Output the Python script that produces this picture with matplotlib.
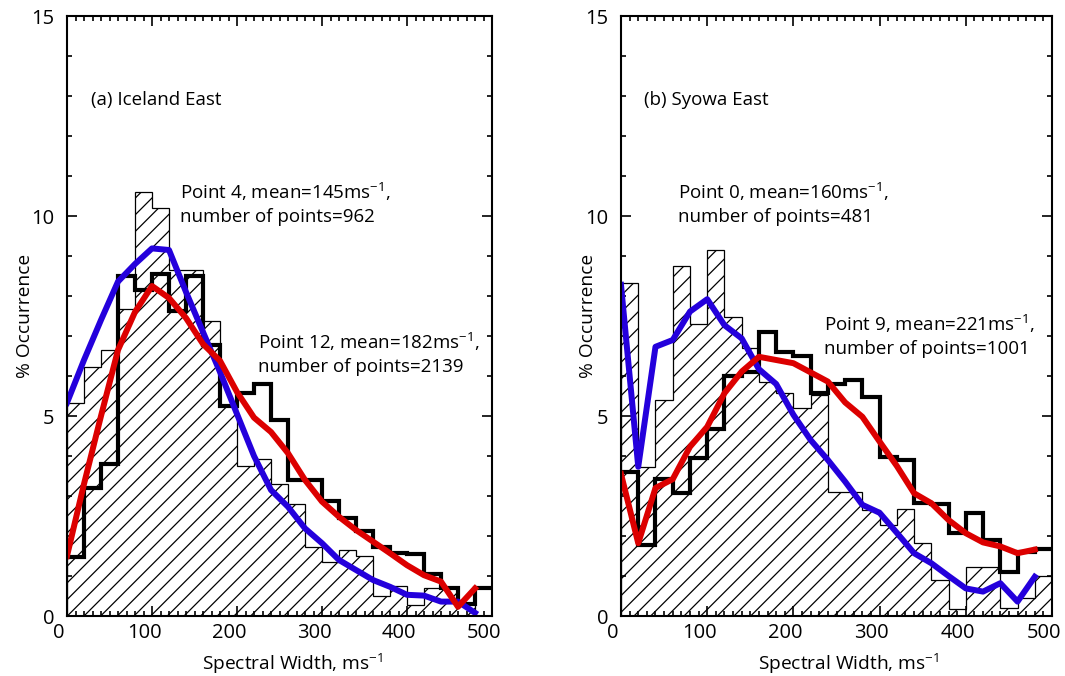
import numpy as np
import matplotlib
matplotlib.use('Agg')
import matplotlib.pyplot as plt
from matplotlib.ticker import MultipleLocator
from matplotlib.transforms import ScaledTranslation

plt.rcParams['font.family'] = ['Open Sans', 'DejaVu Sans']
plt.rcParams['mathtext.fontset'] = 'custom'
plt.rcParams['mathtext.rm'] = 'Open Sans'
plt.rcParams['mathtext.it'] = 'Open Sans'
plt.rcParams['mathtext.default'] = 'rm'
plt.rcParams['hatch.linewidth'] = 0.9

# bin edges (ms-1) and line sample positions
edges = np.arange(0, 520, 20)
x_pts = np.arange(0, 500, 20)

# (a) Iceland East
ice_hatch = [5.32, 6.23, 6.65, 7.67, 10.6, 10.2, 8.65, 8.65, 7.37, 5.25, 3.74, 3.93, 3.3,
             2.8, 1.73, 1.36, 1.64, 1.5, 0.5, 0.76, 0.28, 0.69, 0.69, 0.3, 0.0]
ice_thick = [1.47, 3.19, 3.8, 8.5, 8.15, 8.55, 7.62, 8.5, 6.78, 5.26, 5.58, 5.81, 4.89,
             3.4, 3.4, 2.87, 2.46, 2.12, 1.72, 1.58, 1.55, 1.05, 0.7, 0.3, 0.69]
ice_blue = [5.33, 6.4, 7.4, 8.36, 8.8, 9.19, 9.15, 8.1, 7.1, 6.1, 5.05, 4.0, 3.15,
            2.73, 2.19, 1.82, 1.4, 1.15, 0.9, 0.73, 0.53, 0.51, 0.36, 0.36, 0.08]
ice_red = [1.5, 3.3, 5.0, 6.65, 7.6, 8.25, 7.95, 7.45, 6.8, 6.38, 5.6, 4.96, 4.6,
           4.07, 3.4, 2.86, 2.48, 2.15, 1.86, 1.57, 1.27, 1.02, 0.86, 0.23, 0.69]

# (b) Syowa East
syo_hatch = [8.33, 3.73, 5.4, 8.75, 7.3, 9.15, 7.48, 6.69, 5.86, 5.58, 5.19, 5.52, 3.11,
             3.11, 2.65, 2.27, 2.67, 1.82, 0.9, 0.17, 1.23, 1.23, 0.2, 0.45, 1.0]
syo_thick = [3.61, 1.77, 3.42, 3.07, 3.96, 4.67, 6.0, 6.11, 7.1, 6.61, 6.51, 5.57, 5.8,
             5.9, 5.48, 3.98, 3.9, 2.82, 2.8, 2.07, 2.58, 1.89, 1.1, 1.6, 1.67]
syo_blue = [8.28, 3.73, 6.73, 6.9, 7.61, 7.92, 7.27, 6.94, 6.17, 5.8, 5.03, 4.4, 3.9,
            3.36, 2.78, 2.58, 2.08, 1.57, 1.32, 1.0, 0.69, 0.61, 0.82, 0.36, 0.98]
syo_red = [3.55, 1.82, 3.2, 3.42, 4.23, 4.73, 5.57, 6.11, 6.48, 6.4, 6.32, 6.09, 5.86,
           5.34, 4.98, 4.36, 3.75, 3.07, 2.82, 2.4, 2.07, 1.84, 1.74, 1.57, 1.66]

panels = [
    ('(a) Iceland East', ice_hatch, ice_thick, ice_blue, ice_red,
     ['Point 4, mean=145ms$^{-1}$,', 'number of points=962'], (133, 10.6),
     ['Point 12, mean=182ms$^{-1}$,', 'number of points=2139'], (225, 6.85)),
    ('(b) Syowa East', syo_hatch, syo_thick, syo_blue, syo_red,
     ['Point 0, mean=160ms$^{-1}$,', 'number of points=481'], (66, 10.6),
     ['Point 9, mean=221ms$^{-1}$,', 'number of points=1001'], (235, 7.3)),
]

blue = '#2400dc'
red = '#dc0000'

fig = plt.figure(figsize=(10.65, 6.76), dpi=100)
ax1 = fig.add_axes([67 / 1065, 60 / 676, 425 / 1065, 600 / 676])
ax2 = fig.add_axes([621 / 1065, 60 / 676, 431 / 1065, 600 / 676])

for ax, p in zip([ax1, ax2], panels):
    title, hatch, thick, lb, lr, t1, p1, t2, p2 = p
    ax.stairs(hatch, edges, fill=True, facecolor='white', edgecolor='black',
              hatch='//', linewidth=0.9)
    ax.stairs(thick, edges, baseline=None, color='black', linewidth=3)
    ax.plot(x_pts, lb, color=blue, linewidth=4.3)
    ax.plot(x_pts, lr, color=red, linewidth=4.3)

    ax.set_xlim(0, 500)
    ax.set_ylim(0, 15)
    ax.xaxis.set_major_locator(MultipleLocator(100))
    ax.xaxis.set_minor_locator(MultipleLocator(10))
    ax.yaxis.set_major_locator(MultipleLocator(5))
    ax.yaxis.set_minor_locator(MultipleLocator(1))
    ax.tick_params(which='both', direction='in', top=True, right=True, width=1.2,
                   labelsize=14.5)
    ax.tick_params(which='major', length=7)
    ax.tick_params(which='minor', length=3.5)
    ax.tick_params(axis='y', pad=9)
    ax.tick_params(axis='x', pad=5)
    for s in ax.spines.values():
        s.set_linewidth(1.5)

    # labels sit a little left of their ticks, as in the original
    shift = ScaledTranslation(-8 / 100, 0, fig.dpi_scale_trans)
    for lab in ax.get_xticklabels():
        lab.set_transform(lab.get_transform() + shift)

    ax.text(28 if ax is ax1 else 27, 12.9, title, fontsize=13.5, va='center')
    ax.text(p1[0], p1[1], t1[0], fontsize=13.5, va='center')
    ax.text(p1[0], p1[1] - 0.63, t1[1], fontsize=13.5, va='center')
    ax.text(p2[0], p2[1], t2[0], fontsize=13.5, va='center')
    ax.text(p2[0], p2[1] - 0.63, t2[1], fontsize=13.5, va='center')

    ax.set_xlabel('Spectral Width, ms$^{-1}$', fontsize=13.8)
    ax.set_ylabel('% Occurrence', fontsize=13.8, va='center')

ax1.xaxis.set_label_coords(0.53, -0.06)
ax2.xaxis.set_label_coords(0.527, -0.06)
ax1.yaxis.set_label_coords(-0.099, 0.5)
ax2.yaxis.set_label_coords(-0.077, 0.5)

fig.savefig('out.png', dpi=100)
